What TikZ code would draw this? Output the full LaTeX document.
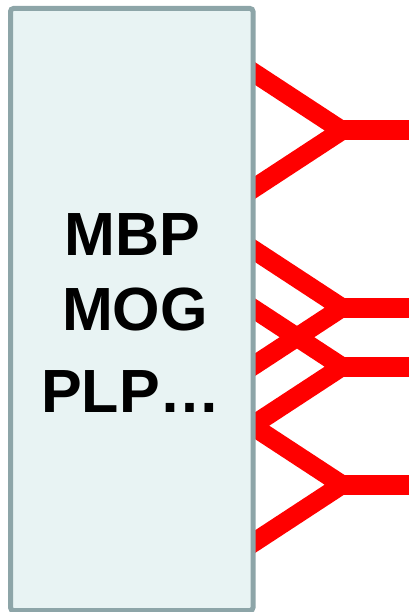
\documentclass[tikz,border=0pt]{standalone}
\usepackage{fontspec}
\setmainfont{Liberation Sans}
\begin{document}
\begin{tikzpicture}[x=1pt,y=-1pt,
  panel/.style={draw=paneledge, fill=panelfill, line width=5pt,
    rounded corners=3pt, inner sep=0pt, minimum width=242.5pt, minimum height=602pt},
  label/.style={font=\fontsize{61}{72}\selectfont\bfseries, anchor=base, inner sep=0pt},
  fork/.style={draw=forkred, line width=19pt, line join=miter, line cap=butt},
  stem/.style={draw=forkred, line width=20pt, line cap=butt}]
\definecolor{panelfill}{HTML}{E8F3F3}
\definecolor{paneledge}{HTML}{8DA5A8}
\definecolor{forkred}{HTML}{FF0000}
\useasboundingbox (0,0) rectangle (413,612);

% junction points of the four forks and the free ends of their stems
\foreach \n/\y in {1/130.5, 2/307.7, 3/366.7, 4/484.7} {
  \coordinate (j\n) at (342,\y);
  \coordinate (r\n) at (409,\y);
  \coordinate (u\n) at (240,\y-66.8);
  \coordinate (d\n) at (240,\y+66.8);
}

% red forks (their left ends run under the panel)
\foreach \n in {1,2,3,4} {
  \path[fork] (u\n) -- (j\n) -- (d\n);
  \path[stem] (j\n) -- (r\n);
}

% the panel and its text
\node[panel] (box) at (131.75,309.5) {};
\node[label] (mbp) at (132.5,255) {MBP};
\node[label] (mog) at (135,330) {MOG};
\node[label] (plp) at (131,412) {PLP…};
\end{tikzpicture}
\end{document}
